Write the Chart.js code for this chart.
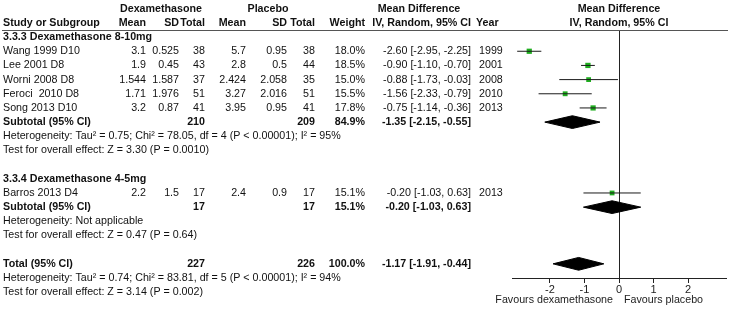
<!DOCTYPE html>
<html>
<head>
<meta charset="utf-8">
<script src="https://cdn.jsdelivr.net/npm/chart.js@4/dist/chart.umd.min.js"></script>
<style>
  body { margin: 0; background: #fff; }
  #wrap { width: 730px; height: 309px; position: relative; }
</style>
</head>
<body>
<div id="wrap"><canvas id="forest"></canvas></div>
<script>
// study rows
var studies = ['Wang 1999 D10', 'Lee 2001 D8', 'Worni 2008 D8', 'Feroci  2010 D8', 'Song 2013 D10', 'Barros 2013 D4'];
var studyRows = [1, 2, 3, 4, 5, 11];
var dexMean = ['3.1', '1.9', '1.544', '1.71', '3.2', '2.2'];
var dexSD = ['0.525', '0.45', '1.587', '1.976', '0.87', '1.5'];
var dexTotal = [38, 43, 37, 51, 41, 17];
var plaMean = ['5.7', '2.8', '2.424', '3.27', '3.95', '2.4'];
var plaSD = ['0.95', '0.5', '2.058', '2.016', '0.95', '0.9'];
var plaTotal = [38, 44, 35, 51, 41, 17];
var weights = [18.0, 18.5, 15.0, 15.5, 17.8, 15.1];
var md = [-2.60, -0.90, -0.88, -1.56, -0.75, -0.20];
var ciLow = [-2.95, -1.10, -1.73, -2.33, -1.14, -1.03];
var ciHigh = [-2.25, -0.70, -0.03, -0.79, -0.36, 0.63];
var years = [1999, 2001, 2008, 2010, 2013, 2013];

// pooled rows: subtotal 8-10mg, subtotal 4-5mg, total
var pooledLabels = ['Subtotal (95% CI)', 'Subtotal (95% CI)', 'Total (95% CI)'];
var pooledRows = [6, 12, 16];
var pooledDexTotal = [210, 17, 227];
var pooledPlaTotal = [209, 17, 226];
var pooledWeight = [84.9, 15.1, 100.0];
var pooledMd = [-1.35, -0.20, -1.17];
var pooledLow = [-2.15, -1.03, -1.91];
var pooledHigh = [-0.55, 0.63, -0.44];

// other text rows
var groupTitles = [[0, '3.3.3 Dexamethasone 8-10mg'], [10, '3.3.4 Dexamethasone 4-5mg']];
var noteLines = [
  [7, 'Heterogeneity: Tau\u00b2 = 0.75; Chi\u00b2 = 78.05, df = 4 (P < 0.00001); I\u00b2 = 95%'],
  [8, 'Test for overall effect: Z = 3.30 (P = 0.0010)'],
  [13, 'Heterogeneity: Not applicable'],
  [14, 'Test for overall effect: Z = 0.47 (P = 0.64)'],
  [17, 'Heterogeneity: Tau\u00b2 = 0.74; Chi\u00b2 = 83.81, df = 5 (P < 0.00001); I\u00b2 = 94%'],
  [18, 'Test for overall effect: Z = 3.14 (P = 0.002)']
];
var xTicks = [-2, -1, 0, 1, 2];

var FONT = '"Liberation Sans", Arial, sans-serif';
var SIZE = '10.7px ';
var GREEN = '#1fae1f';

function ciText(m, l, h) {
  return m.toFixed(2) + ' [' + l.toFixed(2) + ', ' + h.toFixed(2) + ']';
}

// column x positions: [x, align]
var cols = {
  study: [3, 'left'], dMean: [146, 'right'], dSD: [179, 'right'], dTot: [205, 'right'],
  pMean: [246, 'right'], pSD: [287, 'right'], pTot: [315, 'right'],
  wt: [365, 'right'], ci: [471, 'right'], year: [479, 'left']
};

var datasets = [];
// CI whiskers
studies.forEach(function (s, i) {
  datasets.push({
    data: [{ x: ciLow[i], y: studyRows[i] }, { x: ciHigh[i], y: studyRows[i] }],
    showLine: true, borderColor: '#1a1a1a', borderWidth: 1, pointRadius: 0
  });
});
// study squares
datasets.push({
  data: md.map(function (v, i) { return { x: v, y: studyRows[i] }; }),
  pointStyle: 'rect',
  pointRadius: weights.map(function (w) { return 3.7 * Math.sqrt(w / 18); }),
  backgroundColor: GREEN, borderColor: GREEN, borderWidth: 0
});
// diamonds
pooledMd.forEach(function (m, i) {
  var r = pooledRows[i], h = 0.45;
  datasets.push({
    data: [
      { x: pooledLow[i], y: r }, { x: m, y: r - h }, { x: pooledHigh[i], y: r },
      { x: m, y: r + h }, { x: pooledLow[i], y: r }
    ],
    showLine: true, fill: 'shape', tension: 0,
    borderColor: '#000', backgroundColor: '#000', borderWidth: 1, pointRadius: 0
  });
});

var tablePlugin = {
  id: 'forestTable',
  beforeDatasetsDraw: function (chart) {
    var ctx = chart.ctx, a = chart.chartArea, x0 = chart.scales.x.getPixelForValue(0);
    ctx.save();
    ctx.strokeStyle = '#222';
    ctx.lineWidth = 1;
    ctx.beginPath();
    ctx.moveTo(Math.round(x0) + 0.5, a.top);
    ctx.lineTo(Math.round(x0) + 0.5, a.bottom);
    ctx.stroke();
    ctx.restore();
  },
  afterDraw: function (chart) {
    var ctx = chart.ctx, ys = chart.scales.y;
    ctx.save();
    ctx.fillStyle = '#111';
    ctx.textBaseline = 'middle';
    function put(txt, col, r, bold) {
      ctx.font = (bold ? 'bold ' : '') + SIZE + FONT;
      ctx.textAlign = col[1];
      ctx.fillText(txt, col[0], ys.getPixelForValue(r));
    }
    function center(txt, x, y, bold) {
      ctx.font = (bold ? 'bold ' : '') + SIZE + FONT;
      ctx.textAlign = 'center';
      ctx.fillText(txt, x, y);
    }
    // headers
    var yTop = ys.getPixelForValue(-2), yHead = ys.getPixelForValue(-1);
    center('Dexamethasone', 161, yTop, true);
    center('Placebo', 268, yTop, true);
    center('Mean Difference', 419, yTop, true);
    center('Mean Difference', 619, yTop, true);
    center('IV, Random, 95% CI', 619, yHead, true);
    put('Study or Subgroup', cols.study, -1, true);
    put('Mean', cols.dMean, -1, true);
    put('SD', cols.dSD, -1, true);
    put('Total', cols.dTot, -1, true);
    put('Mean', cols.pMean, -1, true);
    put('SD', cols.pSD, -1, true);
    put('Total', cols.pTot, -1, true);
    put('Weight', cols.wt, -1, true);
    put('IV, Random, 95% CI', cols.ci, -1, true);
    put('Year', [476, 'left'], -1, true);
    ctx.strokeStyle = '#555';
    ctx.beginPath();
    ctx.moveTo(2, chart.chartArea.top + 0.5);
    ctx.lineTo(728, chart.chartArea.top + 0.5);
    ctx.stroke();

    groupTitles.forEach(function (g) { put(g[1], cols.study, g[0], true); });
    studies.forEach(function (s, i) {
      var r = studyRows[i];
      put(s, cols.study, r);
      put(dexMean[i], cols.dMean, r);
      put(dexSD[i], cols.dSD, r);
      put(String(dexTotal[i]), cols.dTot, r);
      put(plaMean[i], cols.pMean, r);
      put(plaSD[i], cols.pSD, r);
      put(String(plaTotal[i]), cols.pTot, r);
      put(weights[i].toFixed(1) + '%', cols.wt, r);
      put(ciText(md[i], ciLow[i], ciHigh[i]), cols.ci, r);
      put(String(years[i]), cols.year, r);
    });
    pooledLabels.forEach(function (lab, i) {
      var r = pooledRows[i];
      put(lab, cols.study, r, true);
      put(String(pooledDexTotal[i]), cols.dTot, r, true);
      put(String(pooledPlaTotal[i]), cols.pTot, r, true);
      put(pooledWeight[i].toFixed(1) + '%', cols.wt, r, true);
      put(ciText(pooledMd[i], pooledLow[i], pooledHigh[i]), cols.ci, r, true);
    });
    noteLines.forEach(function (n) { put(n[1], cols.study, n[0]); });

    // favours labels
    ctx.font = SIZE + FONT;
    ctx.fillStyle = '#222';
    ctx.textAlign = 'right';
    ctx.fillText('Favours dexamethasone', 613, 300);
    ctx.textAlign = 'left';
    ctx.fillText('Favours placebo', 624, 300);
    ctx.restore();
  }
};

new Chart(document.getElementById('forest').getContext('2d'), {
  type: 'scatter',
  data: { datasets: datasets },
  options: {
    responsive: true,
    maintainAspectRatio: false,
    animation: false,
    events: [],
    layout: { padding: { left: 512, right: 4, top: 30, bottom: 0 } },
    plugins: { legend: { display: false }, tooltip: { enabled: false } },
    scales: {
      x: {
        type: 'linear', min: -3.1, max: 3.1,
        afterBuildTicks: function (scale) {
          scale.ticks = xTicks.map(function (v) { return { value: v }; });
        },
        afterFit: function (scale) { scale.height = 31; },
        grid: { display: true, drawOnChartArea: false, drawTicks: true, tickLength: 5, color: '#222' },
        border: { display: true, color: '#222', width: 1 },
        ticks: { font: { family: FONT, size: 11 }, color: '#222', padding: 0, maxRotation: 0 }
      },
      y: { type: 'linear', min: -0.5, max: 17, reverse: true, display: false }
    }
  },
  plugins: [tablePlugin]
});
</script>
</body>
</html>
